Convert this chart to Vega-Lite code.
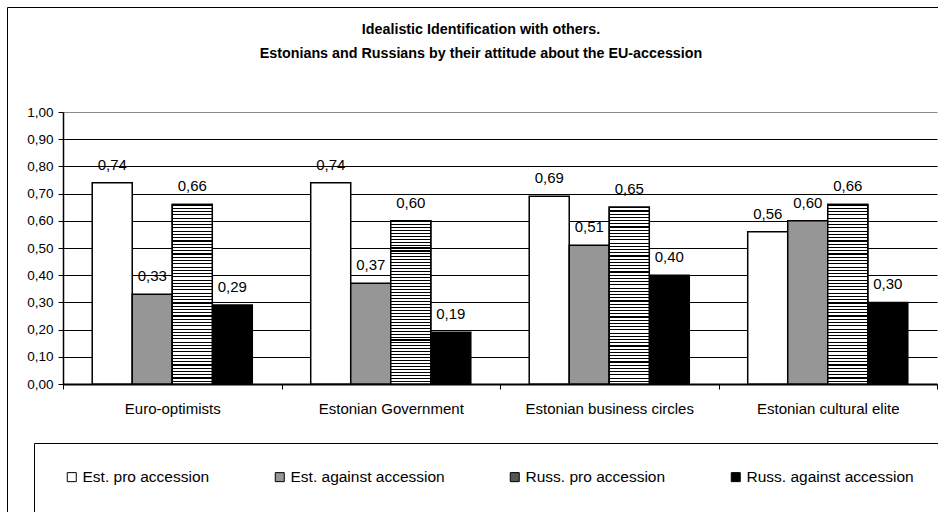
{
  "$schema": "https://vega.github.io/schema/vega-lite/v6.json",
  "width": 874,
  "height": 272,
  "autosize": "none",
  "padding": {"left": 63, "top": 112, "right": 1, "bottom": 128},
  "background": "white",
  "title": {
    "text": ["Idealistic Identification with others.", "Estonians and Russians by their attitude about the EU-accession"],
    "font": "Liberation Sans",
    "fontSize": 14.3,
    "fontWeight": "bold",
    "color": "black",
    "anchor": "middle",
    "frame": "group",
    "dx": -19,
    "offset": -55,
    "lineHeight": 24
  },
  "data": {
    "values": [
      {"group": "Euro-optimists", "series": "Est. pro accession", "value": 0.74},
      {"group": "Euro-optimists", "series": "Est. against accession", "value": 0.33},
      {"group": "Euro-optimists", "series": "Russ. pro accession", "value": 0.66},
      {"group": "Euro-optimists", "series": "Russ. against accession", "value": 0.29},
      {"group": "Estonian Government", "series": "Est. pro accession", "value": 0.74},
      {"group": "Estonian Government", "series": "Est. against accession", "value": 0.37},
      {"group": "Estonian Government", "series": "Russ. pro accession", "value": 0.60},
      {"group": "Estonian Government", "series": "Russ. against accession", "value": 0.19},
      {"group": "Estonian business circles", "series": "Est. pro accession", "value": 0.69},
      {"group": "Estonian business circles", "series": "Est. against accession", "value": 0.51},
      {"group": "Estonian business circles", "series": "Russ. pro accession", "value": 0.65},
      {"group": "Estonian business circles", "series": "Russ. against accession", "value": 0.40},
      {"group": "Estonian cultural elite", "series": "Est. pro accession", "value": 0.56},
      {"group": "Estonian cultural elite", "series": "Est. against accession", "value": 0.60},
      {"group": "Estonian cultural elite", "series": "Russ. pro accession", "value": 0.66},
      {"group": "Estonian cultural elite", "series": "Russ. against accession", "value": 0.30}
    ]
  },
  "encoding": {
    "x": {
      "field": "group",
      "type": "nominal",
      "sort": null,
      "scale": {"paddingInner": 0, "paddingOuter": 0},
      "axis": {
        "title": null,
        "labelAngle": 0,
        "labelFont": "Liberation Sans",
        "labelFontSize": 15,
        "labelColor": "black",
        "labelPadding": 12,
        "tickBand": "extent",
        "tickSize": 5,
        "tickColor": "black",
        "domainColor": "black",
        "domainWidth": 2,
        "grid": false
      }
    },
    "xOffset": {
      "field": "series",
      "type": "nominal",
      "sort": null,
      "scale": {"domain": ["Est. pro accession", "Est. against accession", "Russ. pro accession", "Russ. against accession"], "paddingInner": 0, "paddingOuter": 0.73}
    },
    "y": {
      "field": "value",
      "type": "quantitative",
      "scale": {"domain": [0, 1], "nice": false},
      "axis": {
        "title": null,
        "values": [0, 0.1, 0.2, 0.3, 0.4, 0.5, 0.6, 0.7, 0.8, 0.9, 1.0],
        "format": ".2f",
        "labelFont": "Liberation Sans",
        "labelFontSize": 13.5,
        "labelColor": "black",
        "labelPadding": 5,
        "tickSize": 5,
        "tickColor": "black",
        "domainColor": "black",
        "domainWidth": 1.5,
        "grid": true,
        "gridColor": {"condition": {"test": "datum.value >= 1", "value": "#8a8a8a"}, "value": "black"},
        "gridWidth": 1,
        "gridOpacity": 1
      }
    }
  },
  "layer": [
    {
      "mark": {"type": "bar", "stroke": "black", "strokeWidth": 1.5},
      "encoding": {
        "fill": {
          "field": "series",
          "type": "nominal",
          "sort": null,
          "scale": {
            "domain": ["Est. pro accession", "Est. against accession", "Russ. pro accession", "Russ. against accession"],
            "range": ["#ffffff", "#969696", "#555555", "#000000"]
          },
          "legend": {
            "title": " ",
            "titleOrient": "left",
            "titlePadding": 4,
            "titleFontSize": 15,
            "orient": "none",
            "legendX": -29,
            "legendY": 331,
            "direction": "horizontal",
            "columns": 4,
            "columnPadding": 62,
            "padding": 26,
            "strokeColor": "black",
            "fillColor": "white",
            "symbolType": "square",
            "symbolSize": 81,
            "symbolStrokeColor": "black",
            "symbolStrokeWidth": 1,
            "symbolOpacity": 1,
            "labelFont": "Liberation Sans",
            "labelFontSize": 15.5,
            "labelColor": "black",
            "labelOffset": 3,
            "labelLimit": 400,
            "zindex": 1
          }
        }
      }
    },
    {
      "transform": [{"filter": "datum.series === 'Russ. pro accession'"}],
      "mark": {
        "type": "bar",
        "stroke": "black",
        "fill": {
          "gradient": "linear",
          "x1": 0, "y1": 0, "x2": 0, "y2": 1,
          "stops": [
            {"offset": 0, "color": "#000"}, {"offset": 0.0064, "color": "#000"}, {"offset": 0.0064, "color": "#fff"}, {"offset": 0.0182, "color": "#fff"},
            {"offset": 0.0182, "color": "#000"}, {"offset": 0.0245, "color": "#000"}, {"offset": 0.0245, "color": "#fff"}, {"offset": 0.0364, "color": "#fff"},
            {"offset": 0.0364, "color": "#000"}, {"offset": 0.0427, "color": "#000"}, {"offset": 0.0427, "color": "#fff"}, {"offset": 0.0545, "color": "#fff"},
            {"offset": 0.0545, "color": "#000"}, {"offset": 0.0609, "color": "#000"}, {"offset": 0.0609, "color": "#fff"}, {"offset": 0.0727, "color": "#fff"},
            {"offset": 0.0727, "color": "#000"}, {"offset": 0.0791, "color": "#000"}, {"offset": 0.0791, "color": "#fff"}, {"offset": 0.0909, "color": "#fff"},
            {"offset": 0.0909, "color": "#000"}, {"offset": 0.0973, "color": "#000"}, {"offset": 0.0973, "color": "#fff"}, {"offset": 0.1091, "color": "#fff"},
            {"offset": 0.1091, "color": "#000"}, {"offset": 0.1155, "color": "#000"}, {"offset": 0.1155, "color": "#fff"}, {"offset": 0.1273, "color": "#fff"},
            {"offset": 0.1273, "color": "#000"}, {"offset": 0.1336, "color": "#000"}, {"offset": 0.1336, "color": "#fff"}, {"offset": 0.1455, "color": "#fff"},
            {"offset": 0.1455, "color": "#000"}, {"offset": 0.1518, "color": "#000"}, {"offset": 0.1518, "color": "#fff"}, {"offset": 0.1636, "color": "#fff"},
            {"offset": 0.1636, "color": "#000"}, {"offset": 0.1700, "color": "#000"}, {"offset": 0.1700, "color": "#fff"}, {"offset": 0.1818, "color": "#fff"},
            {"offset": 0.1818, "color": "#000"}, {"offset": 0.1882, "color": "#000"}, {"offset": 0.1882, "color": "#fff"}, {"offset": 0.2000, "color": "#fff"},
            {"offset": 0.2000, "color": "#000"}, {"offset": 0.2064, "color": "#000"}, {"offset": 0.2064, "color": "#fff"}, {"offset": 0.2182, "color": "#fff"},
            {"offset": 0.2182, "color": "#000"}, {"offset": 0.2245, "color": "#000"}, {"offset": 0.2245, "color": "#fff"}, {"offset": 0.2364, "color": "#fff"},
            {"offset": 0.2364, "color": "#000"}, {"offset": 0.2427, "color": "#000"}, {"offset": 0.2427, "color": "#fff"}, {"offset": 0.2545, "color": "#fff"},
            {"offset": 0.2545, "color": "#000"}, {"offset": 0.2609, "color": "#000"}, {"offset": 0.2609, "color": "#fff"}, {"offset": 0.2727, "color": "#fff"},
            {"offset": 0.2727, "color": "#000"}, {"offset": 0.2791, "color": "#000"}, {"offset": 0.2791, "color": "#fff"}, {"offset": 0.2909, "color": "#fff"},
            {"offset": 0.2909, "color": "#000"}, {"offset": 0.2973, "color": "#000"}, {"offset": 0.2973, "color": "#fff"}, {"offset": 0.3091, "color": "#fff"},
            {"offset": 0.3091, "color": "#000"}, {"offset": 0.3155, "color": "#000"}, {"offset": 0.3155, "color": "#fff"}, {"offset": 0.3273, "color": "#fff"},
            {"offset": 0.3273, "color": "#000"}, {"offset": 0.3336, "color": "#000"}, {"offset": 0.3336, "color": "#fff"}, {"offset": 0.3455, "color": "#fff"},
            {"offset": 0.3455, "color": "#000"}, {"offset": 0.3518, "color": "#000"}, {"offset": 0.3518, "color": "#fff"}, {"offset": 0.3636, "color": "#fff"},
            {"offset": 0.3636, "color": "#000"}, {"offset": 0.3700, "color": "#000"}, {"offset": 0.3700, "color": "#fff"}, {"offset": 0.3818, "color": "#fff"},
            {"offset": 0.3818, "color": "#000"}, {"offset": 0.3882, "color": "#000"}, {"offset": 0.3882, "color": "#fff"}, {"offset": 0.4000, "color": "#fff"},
            {"offset": 0.4000, "color": "#000"}, {"offset": 0.4064, "color": "#000"}, {"offset": 0.4064, "color": "#fff"}, {"offset": 0.4182, "color": "#fff"},
            {"offset": 0.4182, "color": "#000"}, {"offset": 0.4245, "color": "#000"}, {"offset": 0.4245, "color": "#fff"}, {"offset": 0.4364, "color": "#fff"},
            {"offset": 0.4364, "color": "#000"}, {"offset": 0.4427, "color": "#000"}, {"offset": 0.4427, "color": "#fff"}, {"offset": 0.4545, "color": "#fff"},
            {"offset": 0.4545, "color": "#000"}, {"offset": 0.4609, "color": "#000"}, {"offset": 0.4609, "color": "#fff"}, {"offset": 0.4727, "color": "#fff"},
            {"offset": 0.4727, "color": "#000"}, {"offset": 0.4791, "color": "#000"}, {"offset": 0.4791, "color": "#fff"}, {"offset": 0.4909, "color": "#fff"},
            {"offset": 0.4909, "color": "#000"}, {"offset": 0.4973, "color": "#000"}, {"offset": 0.4973, "color": "#fff"}, {"offset": 0.5091, "color": "#fff"},
            {"offset": 0.5091, "color": "#000"}, {"offset": 0.5155, "color": "#000"}, {"offset": 0.5155, "color": "#fff"}, {"offset": 0.5273, "color": "#fff"},
            {"offset": 0.5273, "color": "#000"}, {"offset": 0.5336, "color": "#000"}, {"offset": 0.5336, "color": "#fff"}, {"offset": 0.5455, "color": "#fff"},
            {"offset": 0.5455, "color": "#000"}, {"offset": 0.5518, "color": "#000"}, {"offset": 0.5518, "color": "#fff"}, {"offset": 0.5636, "color": "#fff"},
            {"offset": 0.5636, "color": "#000"}, {"offset": 0.5700, "color": "#000"}, {"offset": 0.5700, "color": "#fff"}, {"offset": 0.5818, "color": "#fff"},
            {"offset": 0.5818, "color": "#000"}, {"offset": 0.5882, "color": "#000"}, {"offset": 0.5882, "color": "#fff"}, {"offset": 0.6000, "color": "#fff"},
            {"offset": 0.6000, "color": "#000"}, {"offset": 0.6064, "color": "#000"}, {"offset": 0.6064, "color": "#fff"}, {"offset": 0.6182, "color": "#fff"},
            {"offset": 0.6182, "color": "#000"}, {"offset": 0.6245, "color": "#000"}, {"offset": 0.6245, "color": "#fff"}, {"offset": 0.6364, "color": "#fff"},
            {"offset": 0.6364, "color": "#000"}, {"offset": 0.6427, "color": "#000"}, {"offset": 0.6427, "color": "#fff"}, {"offset": 0.6545, "color": "#fff"},
            {"offset": 0.6545, "color": "#000"}, {"offset": 0.6609, "color": "#000"}, {"offset": 0.6609, "color": "#fff"}, {"offset": 0.6727, "color": "#fff"},
            {"offset": 0.6727, "color": "#000"}, {"offset": 0.6791, "color": "#000"}, {"offset": 0.6791, "color": "#fff"}, {"offset": 0.6909, "color": "#fff"},
            {"offset": 0.6909, "color": "#000"}, {"offset": 0.6973, "color": "#000"}, {"offset": 0.6973, "color": "#fff"}, {"offset": 0.7091, "color": "#fff"},
            {"offset": 0.7091, "color": "#000"}, {"offset": 0.7155, "color": "#000"}, {"offset": 0.7155, "color": "#fff"}, {"offset": 0.7273, "color": "#fff"},
            {"offset": 0.7273, "color": "#000"}, {"offset": 0.7336, "color": "#000"}, {"offset": 0.7336, "color": "#fff"}, {"offset": 0.7455, "color": "#fff"},
            {"offset": 0.7455, "color": "#000"}, {"offset": 0.7518, "color": "#000"}, {"offset": 0.7518, "color": "#fff"}, {"offset": 0.7636, "color": "#fff"},
            {"offset": 0.7636, "color": "#000"}, {"offset": 0.7700, "color": "#000"}, {"offset": 0.7700, "color": "#fff"}, {"offset": 0.7818, "color": "#fff"},
            {"offset": 0.7818, "color": "#000"}, {"offset": 0.7882, "color": "#000"}, {"offset": 0.7882, "color": "#fff"}, {"offset": 0.8000, "color": "#fff"},
            {"offset": 0.8000, "color": "#000"}, {"offset": 0.8064, "color": "#000"}, {"offset": 0.8064, "color": "#fff"}, {"offset": 0.8182, "color": "#fff"},
            {"offset": 0.8182, "color": "#000"}, {"offset": 0.8245, "color": "#000"}, {"offset": 0.8245, "color": "#fff"}, {"offset": 0.8364, "color": "#fff"},
            {"offset": 0.8364, "color": "#000"}, {"offset": 0.8427, "color": "#000"}, {"offset": 0.8427, "color": "#fff"}, {"offset": 0.8545, "color": "#fff"},
            {"offset": 0.8545, "color": "#000"}, {"offset": 0.8609, "color": "#000"}, {"offset": 0.8609, "color": "#fff"}, {"offset": 0.8727, "color": "#fff"},
            {"offset": 0.8727, "color": "#000"}, {"offset": 0.8791, "color": "#000"}, {"offset": 0.8791, "color": "#fff"}, {"offset": 0.8909, "color": "#fff"},
            {"offset": 0.8909, "color": "#000"}, {"offset": 0.8973, "color": "#000"}, {"offset": 0.8973, "color": "#fff"}, {"offset": 0.9091, "color": "#fff"},
            {"offset": 0.9091, "color": "#000"}, {"offset": 0.9155, "color": "#000"}, {"offset": 0.9155, "color": "#fff"}, {"offset": 0.9273, "color": "#fff"},
            {"offset": 0.9273, "color": "#000"}, {"offset": 0.9336, "color": "#000"}, {"offset": 0.9336, "color": "#fff"}, {"offset": 0.9455, "color": "#fff"},
            {"offset": 0.9455, "color": "#000"}, {"offset": 0.9518, "color": "#000"}, {"offset": 0.9518, "color": "#fff"}, {"offset": 0.9636, "color": "#fff"},
            {"offset": 0.9636, "color": "#000"}, {"offset": 0.9700, "color": "#000"}, {"offset": 0.9700, "color": "#fff"}, {"offset": 0.9818, "color": "#fff"},
            {"offset": 0.9818, "color": "#000"}, {"offset": 0.9882, "color": "#000"}, {"offset": 0.9882, "color": "#fff"}, {"offset": 1, "color": "#fff"}
          ]
        }
      },
      "encoding": {
        "strokeWidth": {
          "field": "group",
          "type": "nominal",
          "scale": {"type": "ordinal", "range": [1.5, 1.5, 1.5, 1.5]},
          "legend": {
            "title": null,
            "orient": "none",
            "legendX": -56,
            "legendY": -105,
            "values": ["Euro-optimists"],
            "padding": 330,
            "strokeColor": "black",
            "symbolOpacity": 0,
            "symbolStrokeColor": "transparent",
            "labelColor": "transparent",
            "labelFontSize": 16,
            "labelLimit": 3000,
            "labelExpr": "pad('', 32, '\u2800')",
            "zindex": 0
          }
        }
      }
    },
    {
      "mark": {"type": "text", "font": "Liberation Sans", "fontSize": 15, "color": "black", "baseline": "alphabetic", "dy": -13},
      "encoding": {
        "text": {"field": "value", "type": "quantitative", "format": ".2f"}
      }
    }
  ],
  "config": {
    "locale": {"number": {"decimal": ",", "thousands": ".", "grouping": [3], "currency": ["", ""]}},
    "view": {"stroke": null}
  }
}
